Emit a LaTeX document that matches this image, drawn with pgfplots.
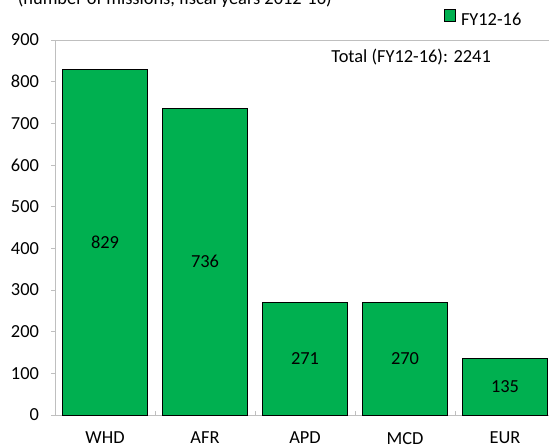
\documentclass[border=0pt]{standalone}
\usepackage{pgfplots}
\pgfplotsset{compat=1.18}
\usepackage{fontspec}
\setmainfont{Carlito}
\definecolor{barg}{HTML}{00B050}
\definecolor{axg}{HTML}{BFBFBF}
\begin{document}
\begin{tikzpicture}[font=\fontsize{9.2}{11}\selectfont]
\useasboundingbox (0,0) rectangle (274.5pt,223pt);
\clip (0,0) rectangle (274.5pt,223pt);
\node[anchor=base west, inner sep=0pt] at (8.75pt,221pt) {(number of missions, fiscal years 2012-16)};
\node[anchor=west, inner sep=0pt] at (165.5pt,194.5pt) {Total (FY12-16): 2241};
\begin{axis}[
  at={(27.5pt,15.5pt)}, anchor=south west,
  scale only axis, width=250pt, height=187.5pt,
  xmin=-0.5, xmax=4.5, ymin=0, ymax=900,
  axis line style={axg},
  tick style={axg, line width=0.4pt},
  major tick length=2pt,
  ytick={0,100,...,900}, ytick pos=left, ytick align=outside,
  yticklabel style={xshift=-2.5pt},
  xtick={0.5,1.5,2.5,3.5}, xticklabels={}, xtick pos=bottom, xtick align=inside,
  extra x ticks={0,1,2,3,4},
  extra x tick labels={WHD,AFR,APD,MCD,EUR},
  extra x tick style={major tick length=0pt, xticklabel style={yshift=-5pt}},
  /pgf/number format/assume math mode=true,
  ticklabel style={font=\fontsize{9.2}{11}\selectfont, text=black},
  legend style={at={(0.778,1.056)}, anchor=west, draw=none, fill=none, inner sep=0pt, outer sep=0pt,
    nodes={inner sep=0pt, font=\fontsize{9.2}{11}\selectfont}},
  legend image code/.code={\draw[#1] (0pt,0pt) rectangle (5.5pt,5.75pt); \path (8pt,0pt);},
]
\addplot[ybar, bar width=0.85, fill=barg, draw=black, line width=0.5pt]
  coordinates {(0,829) (1,736) (2,271) (3,270) (4,135)};
\addlegendentry{FY12-16}
\addplot[forget plot, draw=none, mark=none, nodes near coords, point meta=explicit symbolic,
  nodes near coords style={anchor=center, inner sep=0pt, font=\fontsize{9.2}{11}\selectfont}]
  coordinates {(0,414.5)[829] (1,368)[736] (2,135.5)[271] (3,135)[270] (4,67.5)[135]};
\end{axis}
\end{tikzpicture}
\end{document}
